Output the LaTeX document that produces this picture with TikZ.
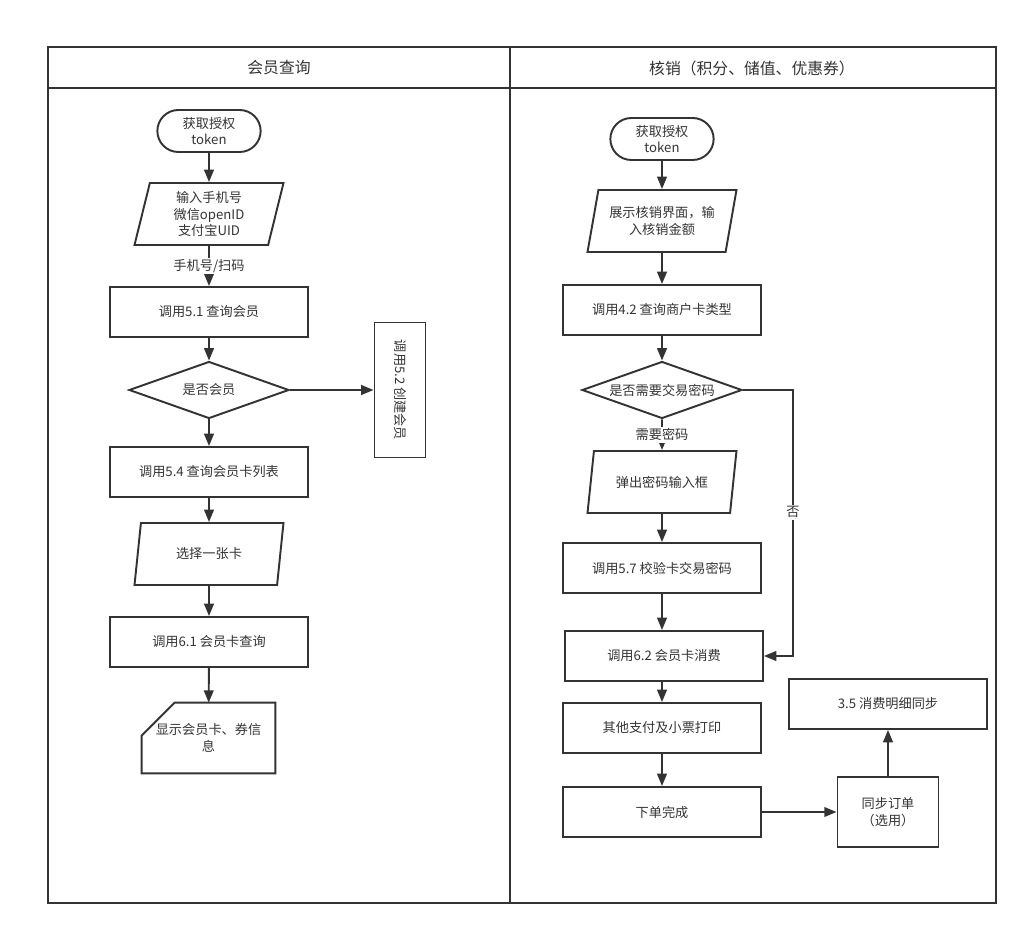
\documentclass[tikz,border=0pt]{standalone}
\usepackage{fontspec}
\setmainfont{Noto Sans CJK SC}
\usetikzlibrary{shapes.geometric,shapes.misc,arrows.meta}
\definecolor{inkgray}{HTML}{333333}

\begin{document}
\begin{tikzpicture}
[
    x=0.02cm, y=-0.02cm,
    font=\fontsize{7.5}{9.5}\selectfont,
    ink/.style={draw=inkgray, line width=1.1pt},
    flow/.style={ink, -{Triangle[length=7pt,width=5.5pt]}},
    process/.style={ink, rectangle, text=inkgray, minimum width=3.96cm, minimum height=1cm, align=center},
    terminal/.style={ink, rounded rectangle, text=inkgray, minimum width=2.3cm, minimum height=0.84cm, align=center},
    io/.style={ink, trapezium, trapezium left angle=75, trapezium right angle=105, trapezium stretches body, text=inkgray, minimum width=2.98cm, minimum height=1.24cm, align=center},
    decision/.style={ink, diamond, aspect=2.8, inner sep=1pt, text=inkgray, minimum width=3.2cm, minimum height=1.14cm, align=center},
    tag/.style={fill=white, inner sep=1pt, text=inkgray}
]
    \useasboundingbox (0,0) rectangle (1028,935);

    % swimlanes
    \draw[ink] (48,47) rectangle (996,903);
    \draw[ink] (48,88) -- (996,88);
    \draw[ink] (510,47) -- (510,903);
    \node[text=inkgray, font=\fontsize{9}{11}\selectfont] (laneA) at (279,68) {会员查询};
    \node[text=inkgray, font=\fontsize{9}{11}\selectfont] (laneB) at (752,68) {核销（积分、储值、优惠券）};

    % left lane
    \node[terminal] (tokenA) at (209,131) {获取授权\\token};
    \node[io] (inputA) at (209,214) {输入手机号\\微信openID\\支付宝UID};
    \node[process] (queryA) at (209,312) {调用5.1 查询会员};
    \node[decision] (isMember) at (209,390) {是否会员};
    \node[process, rotate=-90, minimum width=2.7cm, minimum height=1.02cm] (createA) at (400,390) {调用5.2 创建会员};
    \node[process] (listA) at (209,472) {调用5.4 查询会员卡列表};
    \node[io] (pickA) at (209,554) {选择一张卡};
    \node[process] (cardA) at (209,642) {调用6.1 会员卡查询};
    \node[text=inkgray, minimum width=2.66cm, minimum height=1.4cm, align=center] (showA) at (208.5,738) {显示会员卡、券信\\息};
    \draw[ink] ([xshift=0.66cm]showA.north west) -- (showA.north east) -- (showA.south east)
        -- (showA.south west) -- ([yshift=-0.66cm]showA.north west) -- cycle;

    \draw[flow] (tokenA) -- (inputA);
    \draw[flow] (inputA) -- node[tag] {手机号/扫码} (queryA);
    \draw[flow] (queryA) -- (isMember);
    \draw[flow] (isMember) -- (createA);
    \draw[flow] (isMember) -- (listA);
    \draw[flow] (listA) -- (pickA);
    \draw[flow] (pickA) -- (cardA);
    \draw[flow] (cardA) -- (showA);

    % right lane
    \node[terminal] (tokenB) at (662,139) {获取授权\\token};
    \node[io] (inputB) at (662,221) {展示核销界面，输\\入核销金额};
    \node[process] (typeB) at (662,310) {调用4.2 查询商户卡类型};
    \node[decision] (needPwd) at (662,390) {是否需要交易密码};
    \node[io] (pwdB) at (662,482) {弹出密码输入框};
    \node[process] (checkB) at (662,568) {调用5.7 校验卡交易密码};
    \node[process] (payB) at (664,656) {调用6.2 会员卡消费};
    \node[process] (printB) at (662,728) {其他支付及小票打印};
    \node[process] (doneB) at (662,812) {下单完成};
    \node[process, minimum width=2.02cm, minimum height=1.4cm] (syncB) at (888,812) {同步订单\\（选用）};
    \node[process] (detailB) at (888,704) {3.5 消费明细同步};
    \coordinate (bendB) at (793,390);

    \draw[flow] (tokenB) -- (inputB);
    \draw[flow] (inputB) -- (typeB);
    \draw[flow] (typeB) -- (needPwd);
    \draw[flow] (needPwd) -- node[tag] {需要密码} (pwdB);
    \draw[flow] (needPwd.east) -- (bendB) |- node[tag, pos=0.23] {否} (payB.east);
    \draw[flow] (pwdB) -- (checkB);
    \draw[flow] (checkB) -- (checkB |- payB.north);
    \draw[flow] (payB.south -| printB) -- (printB);
    \draw[flow] (printB) -- (doneB);
    \draw[flow] (doneB) -- (syncB);
    \draw[flow] (syncB) -- (detailB);
\end{tikzpicture}
\end{document}
